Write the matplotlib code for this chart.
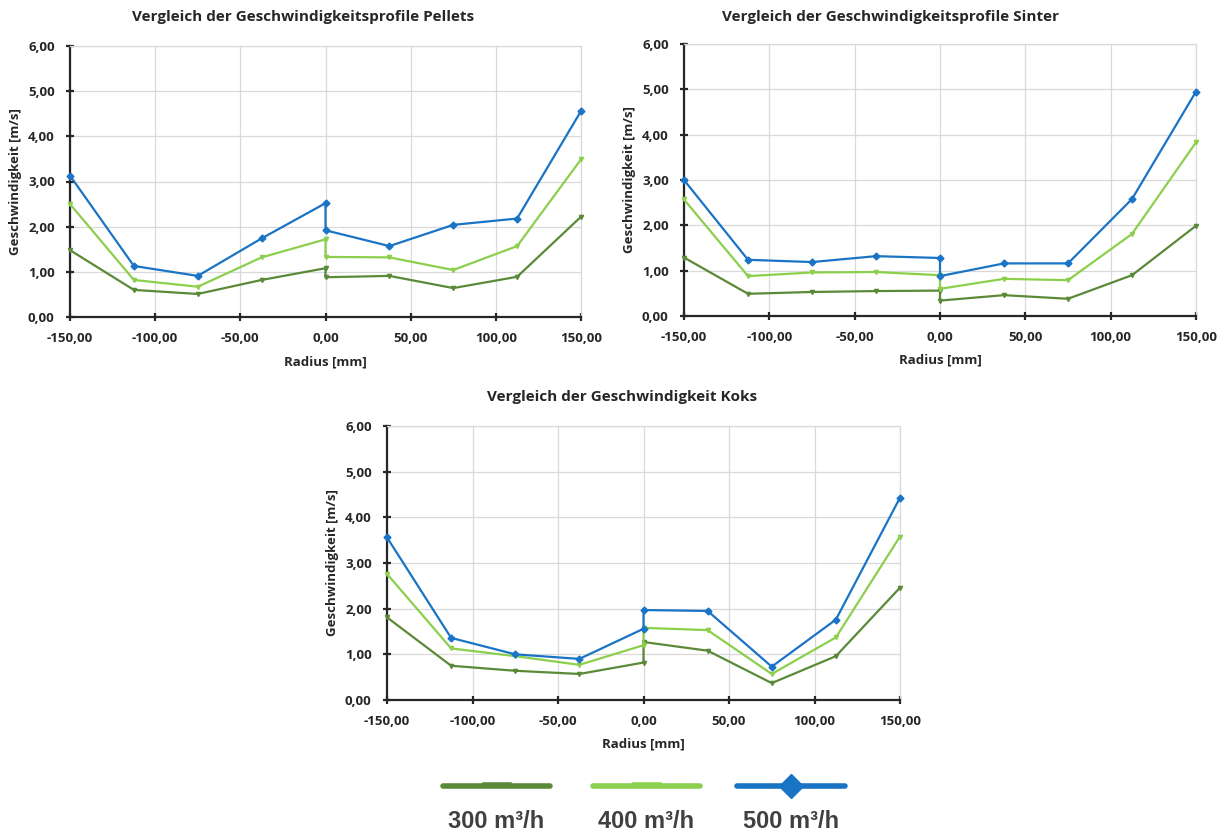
import matplotlib
matplotlib.use("Agg")
import matplotlib.pyplot as plt
from matplotlib.ticker import MultipleLocator, FuncFormatter

plt.rcParams['font.family'] = ['Open Sans', 'DejaVu Sans']

# Radial measuring positions (two readings at the centre: left and right traverse)
radius = [-150, -112.5, -75, -37.5, 0, 0, 37.5, 75, 112.5, 150]

# Pellets
pellets_300 = [1.48, 0.60, 0.51, 0.82, 1.08, 0.88, 0.91, 0.64, 0.89, 2.22]
pellets_400 = [2.50, 0.82, 0.67, 1.32, 1.72, 1.33, 1.32, 1.04, 1.57, 3.49]
pellets_500 = [3.13, 1.13, 0.91, 1.74, 2.52, 1.92, 1.57, 2.04, 2.18, 4.56]

# Sinter
sinter_300 = [1.29, 0.49, 0.53, 0.55, 0.56, 0.34, 0.46, 0.38, 0.90, 1.99]
sinter_400 = [2.57, 0.88, 0.96, 0.97, 0.90, 0.60, 0.82, 0.79, 1.81, 3.83]
sinter_500 = [3.00, 1.24, 1.19, 1.32, 1.28, 0.88, 1.16, 1.16, 2.58, 4.95]

# Koks
koks_300 = [1.81, 0.75, 0.64, 0.57, 0.82, 1.27, 1.08, 0.37, 0.96, 2.46]
koks_400 = [2.76, 1.13, 0.96, 0.77, 1.20, 1.58, 1.53, 0.57, 1.37, 3.58]
koks_500 = [3.56, 1.36, 1.00, 0.90, 1.56, 1.97, 1.95, 0.73, 1.76, 4.43]

series_labels = ["300 m³/h", "400 m³/h", "500 m³/h"]
colors = ["#5A8A38", "#8CCF4D", "#1A74C6"]
markers = ["v", "v", "D"]
msizes = [3, 3, 3.5]

W, H = 1227, 832

panels = [
    ("Vergleich der Geschwindigkeitsprofile Pellets", [pellets_300, pellets_400, pellets_500],
     (70, 46, 581, 317), (303, 17)),
    ("Vergleich der Geschwindigkeitsprofile Sinter", [sinter_300, sinter_400, sinter_500],
     (684, 44, 1196, 316), (891, 17)),
    ("Vergleich der Geschwindigkeit Koks", [koks_300, koks_400, koks_500],
     (387, 426, 900, 700), (622, 397)),
]

fig = plt.figure(figsize=(W / 100, H / 100), dpi=100)

comma = FuncFormatter(lambda v, p: f"{v:.2f}".replace(".", ","))
dark = "#262626"

for title, data, (x0, y0, x1, y1), (tx, ty) in panels:
    ax = fig.add_axes([x0 / W, 1 - y1 / H, (x1 - x0) / W, (y1 - y0) / H])
    for vals, c, m, ms in zip(data, colors, markers, msizes):
        ax.plot(radius, vals, color=c, lw=1.6, marker=m, ms=ms, mec=c, mfc=c,
                solid_joinstyle="round", clip_on=False, zorder=3)
    ax.set_xlim(-150, 150)
    ax.set_ylim(0, 6)
    ax.xaxis.set_major_locator(MultipleLocator(50))
    ax.yaxis.set_major_locator(MultipleLocator(1))
    ax.xaxis.set_major_formatter(comma)
    ax.yaxis.set_major_formatter(comma)
    ax.grid(True, color="#D9D9D9", lw=0.9, zorder=0)
    for s in ("top", "right"):
        ax.spines[s].set_color("#D9D9D9")
        ax.spines[s].set_linewidth(0.9)
    for s in ("left", "bottom"):
        ax.spines[s].set_color(dark)
        ax.spines[s].set_linewidth(1.6)
    ax.tick_params(direction="inout", length=6, width=1.6, color=dark,
                   labelsize=9.5, labelcolor=dark)
    ax.tick_params(axis="x", pad=8)
    ax.tick_params(axis="y", pad=8)
    for lab in ax.get_xticklabels() + ax.get_yticklabels():
        lab.set_fontweight("bold")
    fig.text(tx / W, 1 - ty / H, title, ha="center", va="center", fontsize=11,
             fontweight="bold", color=dark)
    ax.set_xlabel("Radius [mm]", fontsize=9.5, fontweight="bold", color=dark, labelpad=7)
    ax.set_ylabel("Geschwindigkeit [m/s]", fontsize=9.5, fontweight="bold", color=dark, labelpad=4)

# Legend row below the charts
lax = fig.add_axes([0, 0, 1, 1], facecolor="none")
lax.set_xlim(0, W)
lax.set_ylim(H, 0)
lax.axis("off")
legend_x = [(443, 550), (593, 700), (737, 845)]
for (lx0, lx1), c, m, lab in zip(legend_x, colors, markers, series_labels):
    lax.plot([lx0, lx1], [786, 786], color=c, lw=4, solid_capstyle="round")
    xm = (lx0 + lx1) / 2
    if m == "D":
        lax.plot([xm], [786], marker="D", ms=12, color=c)
    else:
        lax.plot([xm - 12, xm + 12], [784.5, 784.5], color=c, lw=4)
    lax.text(xm, 821, lab, ha="center", va="center", fontsize=17, fontweight="bold",
             color="#404040", family=["Liberation Sans", "DejaVu Sans"])

fig.savefig("out.png", dpi=100)
